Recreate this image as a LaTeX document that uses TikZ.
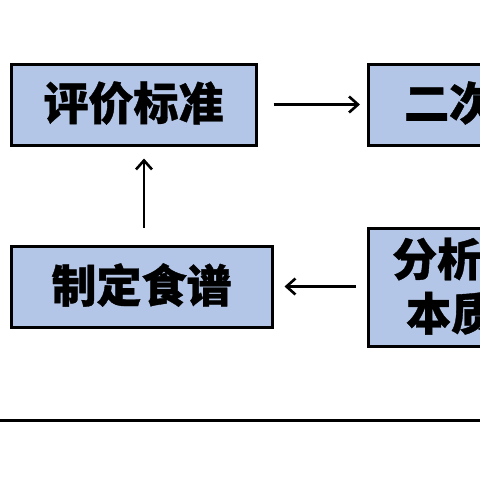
\documentclass[tikz,border=0pt]{standalone}
\usepackage{fontspec}
\newfontfamily\cjk[BoldFeatures={FakeBold=0.8}]{Noto Sans CJK SC}
\usetikzlibrary{arrows.meta}
\definecolor{boxfill}{HTML}{B4C6E7}
\tikzset{
  box/.style={draw=black, line width=3pt, fill=boxfill, inner sep=0pt},
  lbl/.style={font=\cjk\bfseries\fontsize{45}{45}\selectfont, inner sep=0pt},
  arr/.style={line width=2.6pt, -{Straight Barb[length=9pt,width=16pt,line width=2.6pt]}}
}
\begin{document}
\begin{tikzpicture}[x=1pt,y=-1pt]
\useasboundingbox (0,0) rectangle (480,480);
\clip (0,0) rectangle (480,480);
\fill[white] (0,0) rectangle (480,480);
\node[box, minimum width=245pt, minimum height=81pt] (b1) at (133.5,104.5) {};
\node[lbl] (t1) at (133.5,103) {评价标准};
\node[box, minimum width=200pt, minimum height=81pt, anchor=west] (b2) at (367,104.5) {};
\node[lbl, anchor=west] (t2) at (404,103) {二次};
\node[box, minimum width=261pt, minimum height=81pt] (b3) at (141.5,286.5) {};
\node[lbl] (t3) at (141.5,285) {制定食谱};
\node[box, minimum width=200pt, minimum height=118pt, anchor=west] (b4) at (367,287) {};
\node[lbl, anchor=west] (t4a) at (392,259) {分析};
\node[lbl, anchor=west] (t4b) at (406,313) {本质};
\coordinate (ax) at (144,0);
\draw[arr] ([xshift=16pt]b1.east) -- ([xshift=-7pt]b2.west |- b1.east);
\draw[arr] ([yshift=17pt]b3.north -| ax) -- ([yshift=-12pt]b1.south -| ax);
\draw[arr] ([xshift=-11pt]b4.west |- b3.east) -- ([xshift=11pt]b3.east);
\coordinate (l1) at (0,420);
\coordinate (l2) at (480,420);
\draw[line width=3pt] (l1) -- (l2);
\end{tikzpicture}
\end{document}
